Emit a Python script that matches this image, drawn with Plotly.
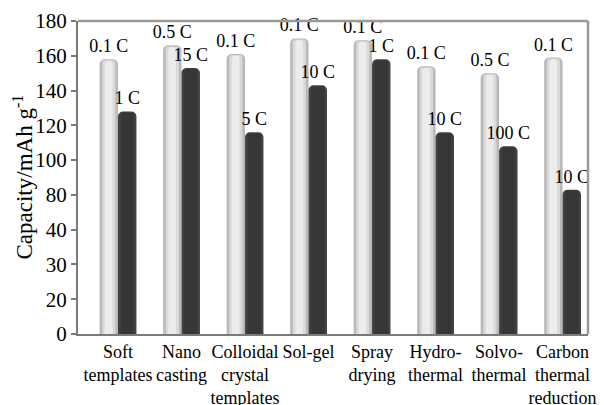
import plotly.graph_objects as go

categories = ["Soft<br>templates", "Nano<br>casting", "Colloidal<br>crystal<br>templates",
              "Sol-gel", "Spray<br>drying", "Hydro-<br>thermal", "Solvo-<br>thermal",
              "Carbon<br>thermal<br>reduction"]
low_rate_values = [158, 166, 161, 170, 169, 154, 150, 159]
low_rate_labels = ["0.1 C", "0.5 C", "0.1 C", "0.1 C", "0.1 C", "0.1 C", "0.5 C", "0.1 C"]
high_rate_values = [128, 153, 116, 143, 158, 116, 108, 83]
high_rate_labels = ["1 C", "15 C", "5 C", "10 C", "1 C", "10 C", "100 C", "10 C"]
y_tick_vals = [0, 20, 40, 60, 80, 100, 120, 140, 160, 180]
y_tick_text = ["0", "20", "30", "40", "80", "100", "120", "140", "160", "180"]

FONT = "Liberation Serif"
xs = list(range(len(categories)))
W = 0.29

fig = go.Figure()
# light bars (cylinder-like shading via overlaid narrower bars)
fig.add_trace(go.Bar(x=xs, y=low_rate_values, width=W, offset=-W,
                     marker=dict(color="#b9b9b9", line=dict(width=0), cornerradius=5),
                     text=low_rate_labels, textposition="outside", constraintext="none",
                     textfont=dict(family=FONT, size=18, color="black"),
                     cliponaxis=False, hoverinfo="skip"))
fig.add_trace(go.Bar(x=xs, y=[v - 0.6 for v in low_rate_values], width=W * 0.72, offset=-W * 0.86,
                     marker=dict(color="#d9d9d9", line=dict(width=0), cornerradius=4),
                     hoverinfo="skip"))
fig.add_trace(go.Bar(x=xs, y=[v - 1.0 for v in low_rate_values], width=W * 0.42, offset=-W * 0.72,
                     marker=dict(color="#ececec", line=dict(width=0), cornerradius=3),
                     hoverinfo="skip"))
# dark bars
fig.add_trace(go.Bar(x=xs, y=high_rate_values, width=W, offset=0,
                     marker=dict(color="#404040", line=dict(width=0), cornerradius=5),
                     text=high_rate_labels, textposition="outside", constraintext="none",
                     textfont=dict(family=FONT, size=18, color="black"),
                     cliponaxis=False, hoverinfo="skip"))
fig.add_trace(go.Bar(x=xs, y=[v - 0.8 for v in high_rate_values], width=W * 0.7, offset=W * 0.15,
                     marker=dict(color="#363636", line=dict(width=0), cornerradius=4),
                     hoverinfo="skip"))

# the page body has an 8px default margin, so the figure is sized/margined to compensate
fig.update_layout(
    width=597, height=397,
    margin=dict(l=70, r=17, t=13, b=71),
    barmode="overlay",
    showlegend=False,
    plot_bgcolor="white", paper_bgcolor="white",
    font=dict(family=FONT, color="black"),
)
fig.update_xaxes(
    tickmode="array", tickvals=xs, ticktext=categories, tickangle=0, automargin=False,
    range=[-0.63, 7.4], showgrid=False, zeroline=False,
    showline=True, linecolor="#7a7a7a", linewidth=2, mirror=False,
    ticks="", tickfont=dict(family=FONT, size=18, color="black"),
)
fig.update_yaxes(
    range=[0, 180], tickmode="array", tickvals=y_tick_vals, ticktext=y_tick_text,
    automargin=False,
    showgrid=False, zeroline=False,
    showline=True, linecolor="#7a7a7a", linewidth=2,
    ticks="outside", ticklen=5, tickcolor="#7a7a7a", tickwidth=1.5,
    tickfont=dict(family=FONT, size=21, color="black"),
)
fig.add_annotation(text="Capacity/mAh g<sup>-1</sup>", xref="paper", yref="paper",
                   x=0, y=0.5, xanchor="center", yanchor="middle", xshift=-55,
                   textangle=-90, showarrow=False,
                   font=dict(family=FONT, size=23, color="black"))
# grey frame on top and right
fig.add_shape(type="line", xref="paper", yref="paper", x0=0, x1=1, y0=1, y1=1,
              line=dict(color="#9a9a9a", width=2.5))
fig.add_shape(type="line", xref="paper", yref="paper", x0=1, x1=1, y0=0, y1=1,
              line=dict(color="#9a9a9a", width=2.5))

fig.write_html("out.html")
